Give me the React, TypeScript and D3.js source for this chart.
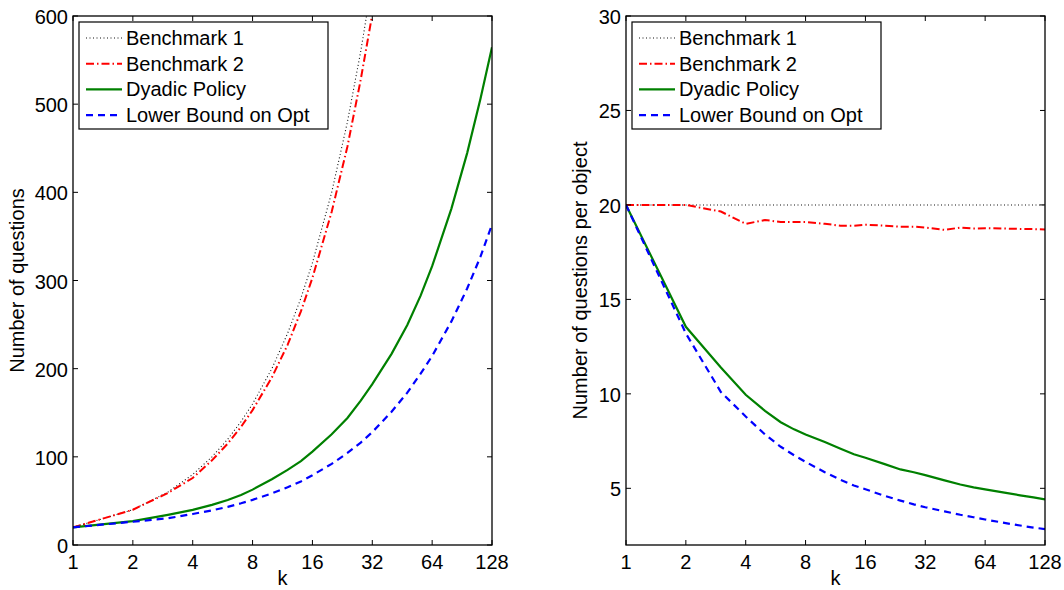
import React from "react";
import * as d3 from "d3";

// sampled k values (number of objects)
const kValues = [1, 2, 3, 4, 5, 6, 7, 8, 10, 12, 14, 16, 20, 24, 28, 32, 40, 48, 56, 64, 80, 96, 112, 128];

// left panel: total number of questions
const bench1Total = [20, 40, 60, 80, 100, 120, 140, 160, 200, 240, 280, 320, 400, 480, 560, 640, 800, 960, 1120, 1280, 1600, 1920, 2240, 2560];
const bench2Total = [20, 40, 59, 76, 96, 115, 134, 153, 190, 227, 265, 303, 378, 452, 528, 602, 747, 902, 1050, 1201, 1500, 1798, 2097, 2394];
const dyadicTotal = [20, 27.1, 34.2, 39.8, 45.5, 51, 56.8, 62.8, 74.5, 85.2, 95.2, 105.9, 125.6, 144, 163.8, 182.4, 216.8, 249.6, 282.8, 316.2, 381.6, 444.5, 506.2, 564.5];
const lowerTotal = [20, 26.4, 30.3, 35.2, 39.3, 43.2, 47.3, 51.2, 58.5, 65.4, 72.1, 79.2, 92, 104.4, 116.2, 128, 151.2, 172.8, 194.3, 214.4, 253.6, 290.9, 327, 363.5];

// right panel: questions per object
const bench1Per = [20, 20, 20, 20, 20, 20, 20, 20, 20, 20, 20, 20, 20, 20, 20, 20, 20, 20, 20, 20, 20, 20, 20, 20];
const bench2Per = [20, 20, 19.65, 19.0, 19.2, 19.1, 19.1, 19.1, 19.0, 18.9, 18.9, 18.95, 18.9, 18.85, 18.85, 18.8, 18.68, 18.8, 18.75, 18.77, 18.75, 18.73, 18.72, 18.7];
const dyadicPer = [20, 13.55, 11.4, 9.95, 9.1, 8.5, 8.12, 7.85, 7.45, 7.1, 6.8, 6.62, 6.28, 6.0, 5.85, 5.7, 5.42, 5.2, 5.05, 4.94, 4.77, 4.63, 4.52, 4.41];
const lowerPer = [20, 13.2, 10.1, 8.8, 7.85, 7.2, 6.75, 6.4, 5.85, 5.45, 5.15, 4.95, 4.6, 4.35, 4.15, 4.0, 3.78, 3.6, 3.47, 3.35, 3.17, 3.03, 2.92, 2.84];

const xTicks = [1, 2, 4, 8, 16, 32, 64, 128];
const leftYTicks = [0, 100, 200, 300, 400, 500, 600];
const rightYTicks = [5, 10, 15, 20, 25, 30];
const seriesNames = ["Benchmark 1", "Benchmark 2", "Dyadic Policy", "Lower Bound on Opt"];

const styles = [
  { color: "#111", width: 1.1, dash: "1 2.5" },
  { color: "#ff0000", width: 2, dash: "8 3 1.5 3" },
  { color: "#008000", width: 2.2, dash: "" },
  { color: "#0000ff", width: 2.2, dash: "7 5" },
];

const FONT = "'Liberation Sans', Arial, Helvetica, sans-serif";

type PanelProps = {
  id: string;
  x0: number;
  x1: number;
  y0: number;
  y1: number;
  yDomain: [number, number];
  yTicks: number[];
  series: number[][];
  ylabel: string;
  ylabelX: number;
};

const Panel = ({ id, x0, x1, y0, y1, yDomain, yTicks, series, ylabel, ylabelX }: PanelProps) => {
  const x = d3.scaleLog().base(2).domain([1, 128]).range([x0, x1]);
  const y = d3.scaleLinear().domain(yDomain).range([y1, y0]);
  const line = d3
    .line<number>()
    .x((_, i) => x(kValues[i]))
    .y((d) => y(d));
  const tl = 5;
  const legX = x0 + 6;
  const legY = y0 + 6;

  return (
    <g>
      <defs>
        <clipPath id={id}>
          <rect x={x0} y={y0} width={x1 - x0} height={y1 - y0} />
        </clipPath>
      </defs>
      <g clipPath={`url(#${id})`}>
        {series.map((s, i) => (
          <path
            key={i}
            d={line(s) || ""}
            fill="none"
            stroke={styles[i].color}
            strokeWidth={styles[i].width}
            strokeDasharray={styles[i].dash}
          />
        ))}
      </g>
      {/* ticks, all four sides */}
      {xTicks.map((t) => (
        <g key={"x" + t}>
          <line x1={x(t)} x2={x(t)} y1={y1} y2={y1 - tl} stroke="#000" />
          <line x1={x(t)} x2={x(t)} y1={y0} y2={y0 + tl} stroke="#000" />
          <text x={x(t)} y={y1 + 24} textAnchor="middle" fontSize={20} fontFamily={FONT}>
            {t}
          </text>
        </g>
      ))}
      {yTicks.map((t) => (
        <g key={"y" + t}>
          <line x1={x0} x2={x0 + tl} y1={y(t)} y2={y(t)} stroke="#000" />
          <line x1={x1} x2={x1 - tl} y1={y(t)} y2={y(t)} stroke="#000" />
          <text x={x0 - 5} y={y(t) + 8} textAnchor="end" fontSize={20} fontFamily={FONT}>
            {t}
          </text>
        </g>
      ))}
      <rect x={x0} y={y0} width={x1 - x0} height={y1 - y0} fill="none" stroke="#000" strokeWidth={1.3} />
      <text x={(x0 + x1) / 2} y={y1 + 40} textAnchor="middle" fontSize={20} fontFamily={FONT}>
        k
      </text>
      <text
        transform={`translate(${ylabelX},${(y0 + y1) / 2}) rotate(-90)`}
        textAnchor="middle"
        fontSize={20}
        fontFamily={FONT}
      >
        {ylabel}
      </text>
      {/* legend */}
      <rect x={legX} y={legY} width={249} height={107} fill="#fff" stroke="#000" strokeWidth={1.2} />
      {seriesNames.map((name, i) => (
        <g key={name}>
          <line
            x1={legX + 7}
            x2={legX + 43}
            y1={legY + 16 + i * 25.7}
            y2={legY + 16 + i * 25.7}
            stroke={styles[i].color}
            strokeWidth={styles[i].width}
            strokeDasharray={styles[i].dash}
          />
          <text x={legX + 47} y={legY + 23 + i * 25.7} fontSize={20} fontFamily={FONT}>
            {name}
          </text>
        </g>
      ))}
    </g>
  );
};

export default function App() {
  return (
    <svg width={1064} height={590} style={{ position: "absolute", left: 0, top: 0, background: "#fff" }}>
      <Panel
        id="clipL"
        x0={73}
        x1={492}
        y0={16}
        y1={545}
        yDomain={[0, 600]}
        yTicks={leftYTicks}
        series={[bench1Total, bench2Total, dyadicTotal, lowerTotal]}
        ylabel="Number of questions"
        ylabelX={24}
      />
      <Panel
        id="clipR"
        x0={626}
        x1={1045}
        y0={16}
        y1={545}
        yDomain={[2, 30]}
        yTicks={rightYTicks}
        series={[bench1Per, bench2Per, dyadicPer, lowerPer]}
        ylabel="Number of questions per object"
        ylabelX={587}
      />
    </svg>
  );
}
